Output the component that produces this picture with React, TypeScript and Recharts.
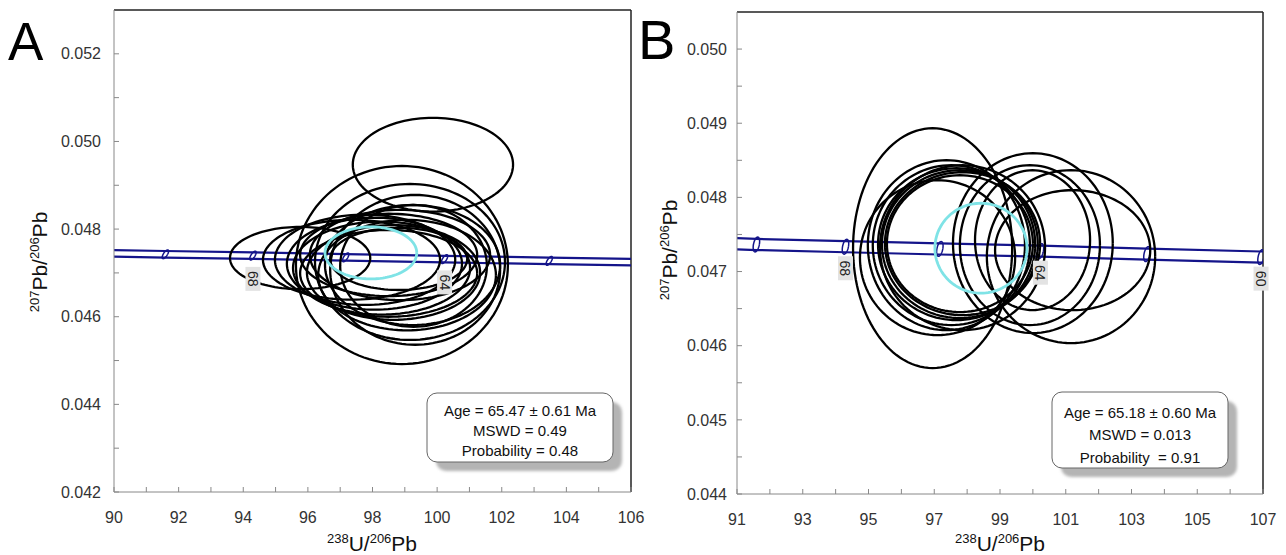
import React from 'react';
import { ComposedChart, Line, XAxis, YAxis, ReferenceLine, ReferenceDot } from 'recharts';

type Ell = [number, number, number, number]; // centre x, centre y, radius x, radius y (data units)

// ---------- Panel A ----------
const xTicksA = [90, 91, 92, 93, 94, 95, 96, 97, 98, 99, 100, 101, 102, 103, 104, 105, 106];
const xLabelsA = [90, 92, 94, 96, 98, 100, 102, 104, 106];
const yTicksA = [0.042, 0.043, 0.044, 0.045, 0.046, 0.047, 0.048, 0.049, 0.05, 0.051, 0.052];
const yLabelsA = [0.042, 0.044, 0.046, 0.048, 0.05, 0.052];

const concXA = [90, 91.59, 94.3, 97.17, 100.23, 103.47, 106];
const concUpperA = [0.04752, 0.0475, 0.04747, 0.04743, 0.04739, 0.04735, 0.04732];
const concLowerA = [0.04737, 0.04735, 0.04732, 0.04728, 0.04724, 0.0472, 0.04717];
const markerXA = [91.59, 94.3, 97.17, 100.23, 103.47];
const markerAgesA = [70, 68, 66, 64, 62];
const labeledAgesA = [68, 64];

const ellipsesA: Ell[] = [
  [99.87, 0.04947, 2.48, 0.00107],
  [98.91, 0.04718, 3.28, 0.00226],
  [99.16, 0.04725, 2.94, 0.00178],
  [95.76, 0.04734, 2.17, 0.00071],
  [97.35, 0.0473, 2.74, 0.00091],
  [97.77, 0.0473, 2.79, 0.00103],
  [98.06, 0.04721, 2.71, 0.00105],
  [98.28, 0.04711, 2.74, 0.00106],
  [98.5, 0.04741, 2.74, 0.00094],
  [98.65, 0.04701, 2.68, 0.00108],
  [98.85, 0.04741, 2.79, 0.00103],
  [99.07, 0.04695, 2.75, 0.00126],
  [99.24, 0.04718, 2.71, 0.00137],
  [98.81, 0.04732, 2.12, 0.00071],
  [99.27, 0.04716, 2.27, 0.00139],
  [99.32, 0.04707, 2.63, 0.00171],
  [98.5, 0.04699, 2.74, 0.00099],
];
const meanA: Ell = [97.95, 0.047457, 1.42, 0.000594];

// ---------- Panel B ----------
const xTicksB = [91, 92, 93, 94, 95, 96, 97, 98, 99, 100, 101, 102, 103, 104, 105, 106, 107];
const xLabelsB = [91, 93, 95, 97, 99, 101, 103, 105, 107];
const yTicksB = [0.044, 0.0445, 0.045, 0.0455, 0.046, 0.0465, 0.047, 0.0475, 0.048, 0.0485, 0.049, 0.0495, 0.05];
const yLabelsB = [0.044, 0.045, 0.046, 0.047, 0.048, 0.049, 0.05];

const concXB = [91, 91.59, 94.3, 97.17, 100.23, 103.47, 106.94, 107];
const concUpperB = [0.04745, 0.04744, 0.04741, 0.04738, 0.04735, 0.04731, 0.04727, 0.04727];
const concLowerB = [0.0473, 0.04729, 0.04726, 0.04723, 0.0472, 0.04716, 0.04712, 0.04712];
const markerXB = [91.59, 94.3, 97.17, 100.23, 103.47, 106.94];
const markerAgesB = [70, 68, 66, 64, 62, 60];
const labeledAgesB = [68, 64, 60];

const ellipsesB: Ell[] = [
  [96.95, 0.047315, 2.42, 0.001617],
  [97.52, 0.047356, 2.39, 0.001078],
  [97.68, 0.047369, 2.39, 0.001024],
  [97.78, 0.047369, 2.37, 0.000997],
  [97.86, 0.047376, 2.36, 0.000964],
  [97.78, 0.047376, 2.22, 0.000923],
  [97.37, 0.047356, 2.39, 0.001146],
  [97.1, 0.047187, 2.36, 0.001044],
  [97.86, 0.047322, 2.51, 0.001112],
  [100.0, 0.047383, 2.43, 0.001213],
  [101.16, 0.047201, 2.56, 0.001166],
  [99.91, 0.047356, 2.13, 0.001078],
  [99.99, 0.047423, 1.75, 0.000943],
  [101.21, 0.047288, 2.36, 0.000809],
];
const meanB: Ell = [98.42, 0.047315, 1.4, 0.000606];

const statsA = ['Age = 65.47 ± 0.61 Ma', 'MSWD = 0.49', 'Probability = 0.48'];
const statsB = ['Age = 65.18 ± 0.60 Ma', 'MSWD = 0.013', 'Probability  = 0.91'];

const FONT = 'Liberation Sans, Arial, sans-serif';

function ellipsePoints(e: Ell, skew = 0, n = 120) {
  const [cx, cy, rx, ry] = e;
  const pts: { x: number; y: number }[] = [];
  for (let i = 0; i <= n; i++) {
    const t = (2 * Math.PI * i) / n;
    pts.push({ x: cx + rx * Math.cos(t) + skew * Math.sin(t), y: cy + ry * Math.sin(t) });
  }
  return pts;
}

const near = (list: number[], v: number) => list.some((l) => Math.abs(l - v) < 1e-9);

const AgeLabel = (props: any) => {
  const { cx, cy, text, gap } = props;
  if (cx == null || cy == null) return null;
  const top = cy + gap;
  const h = 24;
  const w = 15;
  return (
    <g>
      <rect x={cx - w / 2} y={top} width={w} height={h} fill="#e3e3e3" />
      <text
        x={cx}
        y={top + h / 2}
        transform={`rotate(90 ${cx} ${top + h / 2})`}
        textAnchor="middle"
        dominantBaseline="central"
        fontSize={14}
        fontFamily={FONT}
        fill="#222"
      >
        {text}
      </text>
    </g>
  );
};

type PanelProps = {
  width: number;
  height: number;
  margin: { top: number; right: number; bottom: number; left: number };
  xDomain: [number, number];
  yDomain: [number, number];
  xTicks: number[];
  xLabels: number[];
  yTicks: number[];
  yLabels: number[];
  yTickMargin: number;
  ellipses: Ell[];
  mean: Ell;
  concX: number[];
  concU: number[];
  concL: number[];
  markerX: number[];
  markerAges: number[];
  labeled: number[];
  markerShape: [number, number, number];
  labelGap: number;
};

function Panel(p: PanelProps) {
  const tickStyle = { fontSize: 16, fill: '#333', fontFamily: FONT };
  const upper = p.concX.map((x, i) => ({ x, y: p.concU[i] }));
  const lower = p.concX.map((x, i) => ({ x, y: p.concL[i] }));
  const mid = (x: number) => {
    const i = p.concX.indexOf(x);
    return (p.concU[i] + p.concL[i]) / 2;
  };
  const low = (x: number) => p.concL[p.concX.indexOf(x)];
  return (
    <ComposedChart width={p.width} height={p.height} margin={p.margin}>
      <XAxis
        type="number"
        dataKey="x"
        domain={p.xDomain}
        ticks={p.xTicks}
        interval={0}
        allowDataOverflow
        height={30}
        tickSize={-5}
        tickMargin={25}
        tick={tickStyle}
        tickLine={{ stroke: '#888' }}
        axisLine={{ stroke: '#888' }}
        tickFormatter={(v: number) => (near(p.xLabels, v) ? String(v) : '')}
      />
      <YAxis
        type="number"
        dataKey="y"
        domain={p.yDomain}
        ticks={p.yTicks}
        interval={0}
        allowDataOverflow
        width={60}
        tickSize={-5}
        tickMargin={p.yTickMargin}
        tick={tickStyle}
        tickLine={{ stroke: '#888' }}
        axisLine={{ stroke: '#888' }}
        tickFormatter={(v: number) => (near(p.yLabels, v) ? v.toFixed(3) : '')}
      />
      <ReferenceLine y={p.yDomain[1]} stroke="#222" strokeWidth={1.5} />
      <ReferenceLine x={p.xDomain[1]} stroke="#222" strokeWidth={1.5} />
      <Line data={upper} dataKey="y" type="linear" dot={false} activeDot={false} stroke="#14148a" strokeWidth={2.2} isAnimationActive={false} />
      <Line data={lower} dataKey="y" type="linear" dot={false} activeDot={false} stroke="#14148a" strokeWidth={2.2} isAnimationActive={false} />
      {p.markerX.map((mx, i) => (
        <Line
          key={'m' + p.markerAges[i]}
          data={ellipsePoints([mx, mid(mx), p.markerShape[0], p.markerShape[1]], p.markerShape[2], 40)}
          dataKey="y"
          type="linear"
          dot={false}
          activeDot={false}
          stroke="#14148a"
          strokeWidth={1.5}
          isAnimationActive={false}
        />
      ))}
      {p.ellipses.map((e, i) => (
        <Line
          key={'e' + i}
          data={ellipsePoints(e)}
          dataKey="y"
          type="linear"
          dot={false}
          activeDot={false}
          stroke="#000"
          strokeWidth={2.3}
          isAnimationActive={false}
        />
      ))}
      <Line data={ellipsePoints(p.mean)} dataKey="y" type="linear" dot={false} activeDot={false} stroke="#7fe3e6" strokeWidth={2.8} isAnimationActive={false} />
      {p.markerX.map((mx, i) =>
        p.labeled.includes(p.markerAges[i]) ? (
          <ReferenceDot
            key={'l' + p.markerAges[i]}
            x={mx}
            y={low(mx)}
            r={0}
            ifOverflow="visible"
            shape={(sp: any) => <AgeLabel {...sp} text={String(p.markerAges[i])} gap={p.labelGap} />}
          />
        ) : null
      )}
    </ComposedChart>
  );
}

function Sup({ x, y, rotate, parts }: { x: number; y: number; rotate?: number; parts: [string, string, string, string] }) {
  return (
    <text
      x={x}
      y={y}
      textAnchor="middle"
      fontFamily={FONT}
      fontSize={21}
      fill="#111"
      transform={rotate ? `rotate(${rotate} ${x} ${y})` : undefined}
    >
      <tspan fontSize={13} dy={-8}>{parts[0]}</tspan>
      <tspan dy={8}>{parts[1]}</tspan>
      <tspan fontSize={13} dy={-8}>{parts[2]}</tspan>
      <tspan dy={8}>{parts[3]}</tspan>
    </text>
  );
}

function StatsBox({ x, y, w, h, lines, lineGap, first }: { x: number; y: number; w: number; h: number; lines: string[]; lineGap: number; first: number }) {
  return (
    <g>
      <rect x={x + 9} y={y + 9} width={w} height={h} rx={10} fill="#b4b4b4" filter="url(#blur)" />
      <rect x={x} y={y} width={w} height={h} rx={10} fill="#fff" stroke="#666" strokeWidth={1} />
      {lines.map((t, i) => (
        <text
          key={i}
          x={x + w / 2}
          y={first + i * lineGap}
          textAnchor="middle"
          dominantBaseline="central"
          fontFamily={FONT}
          fontSize={15}
          fill="#111"
          style={{ whiteSpace: 'pre' }}
        >
          {t}
        </text>
      ))}
    </g>
  );
}

export default function App() {
  return (
    <div style={{ position: 'absolute', left: 0, top: 0, width: 1286, height: 555, background: '#fff', overflow: 'hidden' }}>
      <div style={{ position: 'absolute', left: 0, top: 0 }}>
        <Panel
          width={660}
          height={555}
          margin={{ top: 10, right: 29, bottom: 33, left: 54 }}
          xDomain={[90, 106]}
          yDomain={[0.042, 0.053]}
          xTicks={xTicksA}
          xLabels={xLabelsA}
          yTicks={yTicksA}
          yLabels={yLabelsA}
          yTickMargin={18}
          ellipses={ellipsesA}
          mean={meanA}
          concX={concXA}
          concU={concUpperA}
          concL={concLowerA}
          markerX={markerXA}
          markerAges={markerAgesA}
          labeled={labeledAgesA}
          markerShape={[0.07, 0.0001, 0.07]}
          labelGap={8}
        />
      </div>
      <div style={{ position: 'absolute', left: 640, top: 0 }}>
        <Panel
          width={646}
          height={555}
          margin={{ top: 12, right: 23, bottom: 31, left: 37 }}
          xDomain={[91, 107]}
          yDomain={[0.044, 0.0505]}
          xTicks={xTicksB}
          xLabels={xLabelsB}
          yTicks={yTicksB}
          yLabels={yLabelsB}
          yTickMargin={15}
          ellipses={ellipsesB}
          mean={meanB}
          concX={concXB}
          concU={concUpperB}
          concL={concLowerB}
          markerX={markerXB}
          markerAges={markerAgesB}
          labeled={labeledAgesB}
          markerShape={[0.09, 0.0001, 0.04]}
          labelGap={4}
        />
      </div>
      <svg width={1286} height={555} style={{ position: 'absolute', left: 0, top: 0, pointerEvents: 'none' }}>
        <defs>
          <filter id="blur" x="-10%" y="-10%" width="120%" height="120%">
            <feGaussianBlur stdDeviation={1.5} />
          </filter>
        </defs>
        <text x={8} y={60} fontFamily={FONT} fontSize={53} fill="#000">A</text>
        <text x={638} y={59} fontFamily={FONT} fontSize={56} fill="#000">B</text>
        <Sup x={47} y={262} rotate={-90} parts={['207', 'Pb/', '206', 'Pb']} />
        <Sup x={677} y={250} rotate={-90} parts={['207', 'Pb/', '206', 'Pb']} />
        <Sup x={372} y={551} parts={['238', 'U/', '206', 'Pb']} />
        <Sup x={1000} y={551} parts={['238', 'U/', '206', 'Pb']} />
        <StatsBox x={427} y={393} w={186} h={69} lines={statsA} lineGap={20} first={410} />
        <StatsBox x={1052} y={392} w={176} h={76} lines={statsB} lineGap={22.5} first={412} />
      </svg>
    </div>
  );
}
